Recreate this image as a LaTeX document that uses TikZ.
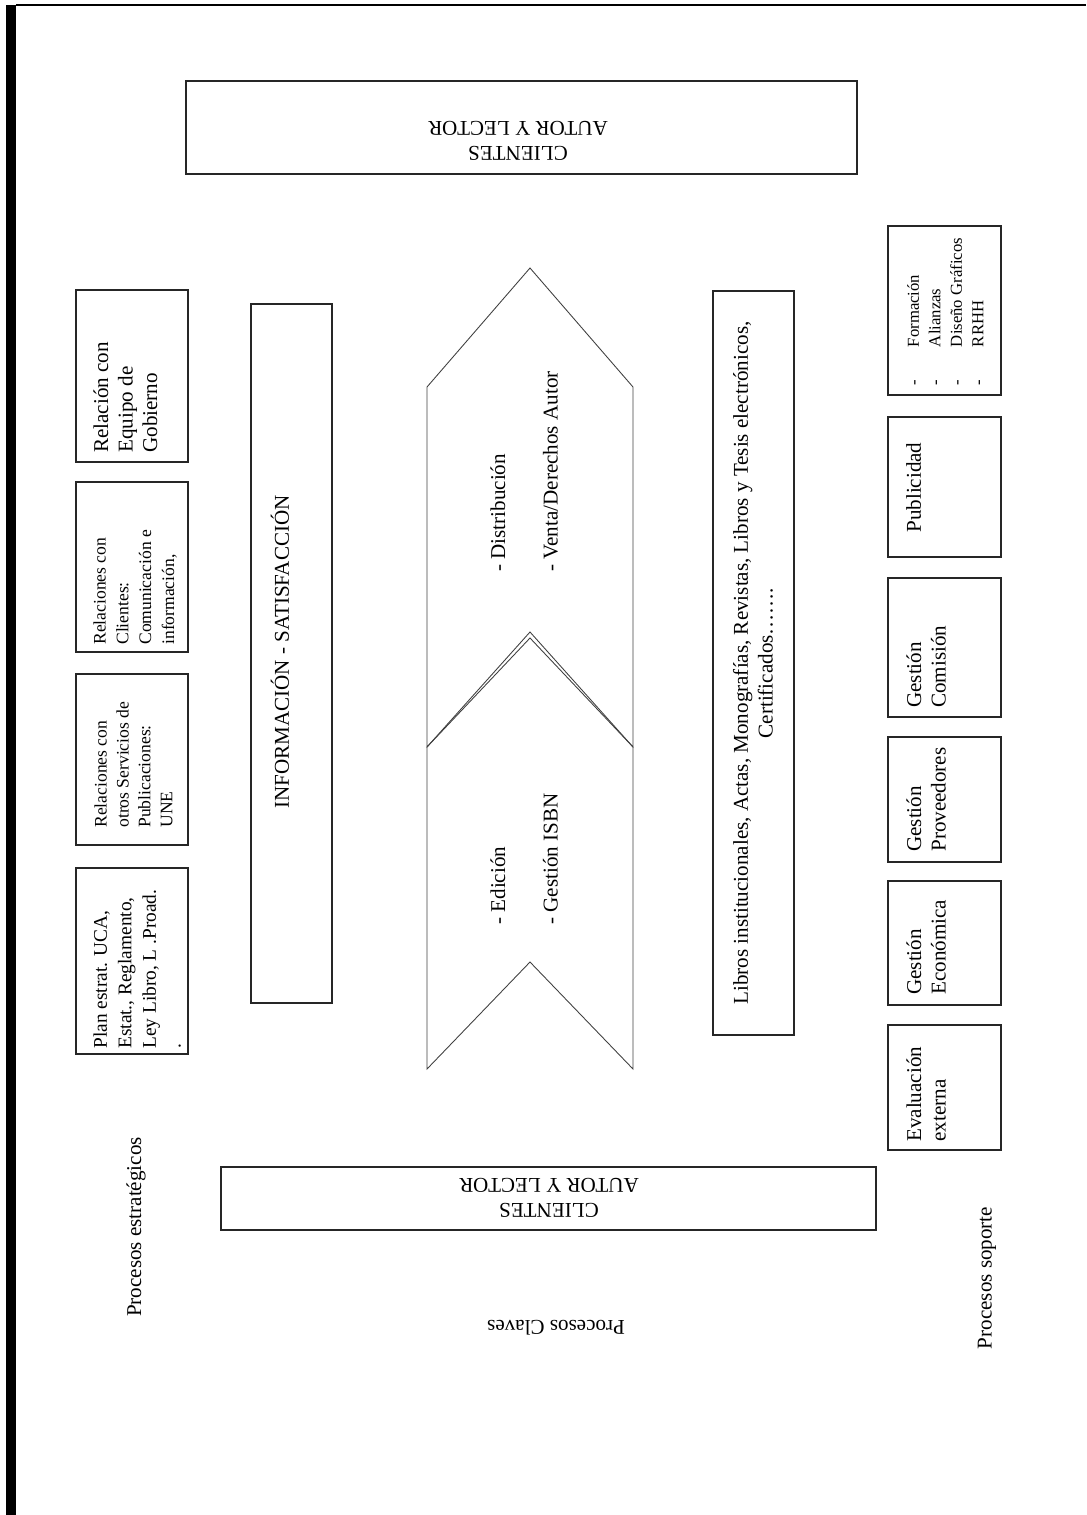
\documentclass[tikz,border=0pt]{standalone}
\usepackage{fontspec}
\setmainfont{Liberation Serif}
\usetikzlibrary{calc,positioning}
\tikzset{pbox/.style={draw=black!85, line width=0.75pt}}
\tikzset{chev/.style={draw=black!75, line width=0.5pt}}
\tikzset{vtxt/.style={rotate=90, inner sep=0pt, anchor=north west, align=left, font=\fontsize{12}{14}\selectfont}}
\tikzset{ctxt/.style={inner sep=0pt, align=center, font=\fontsize{12}{14}\selectfont}}
\begin{document}
\begin{tikzpicture}[x=0.02cm, y=-0.02cm]
\useasboundingbox (0,0) rectangle (1086,1515);
% page edge
\fill[black] (6,5) rectangle (16,1515);
\draw[line width=0.7pt] (16,5) -- (1086,5);

% clientes
\draw[pbox] (186,81) rectangle (857,174);
\node[ctxt, rotate=180] (cltop) at (518,141) {CLIENTES\\AUTOR Y LECTOR};
\draw[pbox] (221,1167) rectangle (876,1230);
\node[ctxt, rotate=180] (clbot) at (549,1198) {CLIENTES\\AUTOR Y LECTOR};

% procesos estrategicos
\draw[pbox] (76,290) rectangle (188,462);
\node[vtxt] (gob) at (93,453) {Relación con\\Equipo de\\Gobierno};
\draw[pbox] (76,482) rectangle (188,652);
\node[vtxt, font=\fontsize{10}{13}\selectfont] (cli) at (93,645) {Relaciones con\\Clientes:\\Comunicación e\\información,};
\draw[pbox] (76,674) rectangle (188,845);
\node[vtxt, font=\fontsize{10}{12.5}\selectfont] (serv) at (94,828) {Relaciones con\\otros Servicios de\\Publicaciones:\\UNE};
\draw[pbox] (76,868) rectangle (188,1054);
\node[vtxt, font=\fontsize{11}{14}\selectfont] (plan) at (93,1049) {Plan estrat. UCA,\\Estat., Reglamento,\\Ley Libro, L .Proad.\\.};

\draw[pbox] (251,304) rectangle (332,1003);
\node[ctxt, rotate=90] (info) at (280,652) {INFORMACIÓN - SATISFACCIÓN};

% procesos claves
\draw[chev] (427,387) -- (530,268) -- (633,387) -- (633,747) -- (530,632) -- (427,747) -- cycle;
\draw[chev] (427,747) -- (530,638) -- (633,747) -- (633,1069) -- (530,962) -- (427,1069) -- cycle;
\node[vtxt, font=\fontsize{12}{15}\selectfont] (dist) at (490,572) {- Distribución\\[15pt]- Venta/Derechos Autor};
\node[vtxt, font=\fontsize{12}{15}\selectfont] (edic) at (490,925) {- Edición\\[15pt]- Gestión ISBN};

\draw[pbox] (713,291) rectangle (794,1035);
\node[ctxt, rotate=90] (libros) at (753,663) {Libros institucionales, Actas, Monografías, Revistas, Libros y Tesis electrónicos,\\Certificados…….};

% procesos soporte
\draw[pbox] (888,226) rectangle (1001,395);
\node[vtxt, font=\fontsize{9.5}{12.2}\selectfont] (form) at (907,386) {\makebox[22pt][l]{-}Formación\\\makebox[22pt][l]{-}Alianzas\\\makebox[22pt][l]{-}Diseño Gráficos\\\makebox[22pt][l]{-}RRHH};
\draw[pbox] (888,417) rectangle (1001,557);
\node[vtxt] (publ) at (906,533) {Publicidad};
\draw[pbox] (888,578) rectangle (1001,717);
\node[vtxt] (comi) at (906,708) {Gestión\\Comisión};
\draw[pbox] (888,737) rectangle (1001,862);
\node[vtxt] (prov) at (906,852) {Gestión\\Proveedores};
\draw[pbox] (888,881) rectangle (1001,1005);
\node[vtxt] (econ) at (906,995) {Gestión\\Económica};
\draw[pbox] (888,1025) rectangle (1001,1150);
\node[vtxt] (eval) at (906,1142) {Evaluación\\externa};

% etiquetas
\node[ctxt, rotate=90] (pest) at (136,1227) {Procesos estratégicos};
\node[ctxt, rotate=90] (psop) at (987,1278) {Procesos soporte};
\node[ctxt, rotate=180] (pclav) at (556,1328) {Procesos Claves};
\end{tikzpicture}
\end{document}
